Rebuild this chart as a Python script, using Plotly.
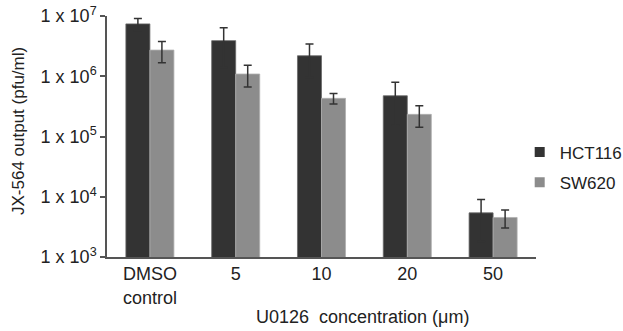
import plotly.graph_objects as go

categories = ["DMSO<br>control", "5", "10", "20", "50"]
hct116 = [7.4e6, 3.9e6, 2.19e6, 4.74e5, 5.4e3]
hct116_err = [1.7e6, 2.5e6, 1.24e6, 3.2e5, 3.6e3]
sw620 = [2.72e6, 1.09e6, 4.3e5, 2.33e5, 4.53e3]
sw620_err = [1.05e6, 0.43e6, 0.85e5, 0.9e5, 1.5e3]
tick_vals = [1e3, 1e4, 1e5, 1e6, 1e7]
tick_text = ["1 x 10<sup>3</sup>", "1 x 10<sup>4</sup>", "1 x 10<sup>5</sup>",
             "1 x 10<sup>6</sup>", "1 x 10<sup>7</sup>"]

FONT = "Liberation Sans, Arial, sans-serif"
TXT = "#222222"
HCT_COLOR = "#333333"
SW_COLOR = "#8c8c8c"

fig = go.Figure()
fig.add_trace(go.Bar(
    name="HCT116", x=categories, y=hct116, showlegend=False,
    marker=dict(color=HCT_COLOR, line=dict(color="#6a6a6a", width=0.8)),
    error_y=dict(type="data", array=hct116_err, visible=True,
                 color="#333333", thickness=1.5, width=4),
))
fig.add_trace(go.Bar(
    name="SW620", x=categories, y=sw620, showlegend=False,
    marker=dict(color=SW_COLOR, line=dict(color="#b0b0b0", width=0.8)),
    error_y=dict(type="data", array=sw620_err, visible=True,
                 color="#333333", thickness=1.5, width=4),
))
# legend entries (small square swatches as in the reference)
for name, col in [("HCT116", HCT_COLOR), ("SW620", SW_COLOR)]:
    fig.add_trace(go.Scatter(
        name=name, x=[None], y=[None], mode="markers", legendgroup=name,
        marker=dict(symbol="square", size=10, color=col),
        showlegend=True,
    ))

fig.update_layout(
    width=623, height=331,
    margin=dict(l=107, r=87, t=16, b=74, autoexpand=False),
    paper_bgcolor="white", plot_bgcolor="white",
    barmode="group", bargap=0.44, bargroupgap=0,
    font=dict(family=FONT, size=18, color=TXT),
    showlegend=True,
    legend=dict(x=0.962, xanchor="left", y=0.508, yanchor="top",
                font=dict(size=17, color=TXT),
                itemwidth=30, tracegroupgap=5,
                bgcolor="rgba(0,0,0,0)"),
    xaxis=dict(
        showline=True, linecolor="#555555", linewidth=1.5,
        ticks="", showgrid=False, range=[-0.5, 4.5], automargin=False,
        tickfont=dict(size=18, color=TXT),
    ),
    yaxis=dict(
        type="log", range=[3, 7], automargin=False,
        tickvals=tick_vals, ticktext=tick_text, ticklabeloverflow="allow",
        showline=True, linecolor="#555555", linewidth=1.5,
        ticks="outside", ticklen=5, tickcolor="#555555", tickwidth=1.5,
        showgrid=False, zeroline=False,
        tickfont=dict(size=18, color=TXT),
    ),
)

fig.add_annotation(
    text="JX-564 output (pfu/ml)",
    xref="paper", yref="paper", x=-0.205, y=0.523, textangle=-90,
    xanchor="center", yanchor="middle", showarrow=False,
    font=dict(size=17, color=TXT),
)
fig.add_annotation(
    text="U0126\u00a0\u00a0concentration (\u03bcm)",
    xref="paper", yref="paper", x=0.595, y=-0.25,
    xanchor="center", yanchor="middle", showarrow=False,
    font=dict(size=18, color=TXT),
)

# remove the browser's default 8px body margin so the figure fills the window
fig.write_html("out.html",
               config={"displayModeBar": False},
               post_script="document.body.style.margin='0';document.body.style.padding='0';")
